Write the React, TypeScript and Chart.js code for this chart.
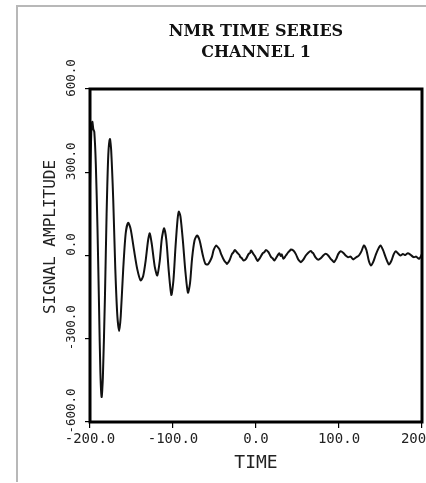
import React, { useEffect, useRef } from "react";
import { Chart, registerables } from "chart.js";

Chart.register(...registerables);

const TITLE_LINES = ["NMR TIME SERIES", "CHANNEL 1"];
const X_LABEL = "TIME";
const Y_LABEL = "SIGNAL AMPLITUDE";
const X_TICKS = [-200, -100, 0, 100, 200];
const Y_TICKS = [-600, -300, 0, 300, 600];

const TIME = [
  -200, -198.5, -197.2, -196, -194.8, -193, -191, -189, -187.5, -186, -184.5, -182, -180, -178, -176,
  -174.5, -172, -169.5, -167, -164.8, -163, -160, -157, -154, -151, -147, -143, -139, -136, -133,
  -130, -128, -125.5, -122, -119, -116, -113.5, -110.7, -108, -105, -102, -99.5, -97, -94.5, -93,
  -91, -88, -85, -82, -79.5, -77, -74, -71, -68, -64, -61, -58, -55, -53, -51, -48,
  -46, -44, -42, -38, -36, -35, -32, -29, -27, -25.5, -22, -20, -19, -17, -15, -12, -9, -7, -6, -3, -1, 0,
  2, 4, 5, 8, 10, 12, 15, 18, 20, 22, 25, 26, 28, 30, 31, 33, 36, 39, 41, 42, 45,
  48, 51, 52, 54, 57, 60, 63, 66, 68, 69, 72, 75, 78, 81, 84, 87, 90,
  92, 94, 97, 99, 102, 105, 108, 111, 114, 117, 120, 122, 124, 127, 130, 133, 136,
  138.5, 141, 144, 147, 150, 153, 156, 158, 160, 163, 166, 168.5, 171, 174, 177, 180,
  183, 186, 190, 193, 196.5, 200,
];

const AMPLITUDE = [
  250, 440, 482, 455, 445, 330, 100, -200, -420, -510, -440, -150, 150, 360, 420,
  380, 200, -50, -220, -272, -220, -50, 80, 118, 95, 20, -50, -90, -75, -20,
  55, 80, 40, -40, -72, -20, 60, 98, 55, -60, -142, -90, 30, 130, 158,
  140, 50, -60, -134, -100, -10, 55, 72, 55, 0, -30, -32, -18, -4, 20, 36,
  30, 22, 5, -20, -26, -30, -18, 5, 12, 20, 8, 2, -5, -10, -18, -12, 5, 10, 18, 5, -4, -10,
  -20, -12, -8, 8, 12, 20, 12, -5, -10, -18, -5, 0, 8, -2, 4, -12, 0, 12, 18, 22, 18,
  5, -15, -18, -24, -15, 0, 10, 16, 10, 8, -8, -15, -10, 0, 6, 0, -12,
  -18, -24, -10, 5, 15, 10, 0, -6, -4, -14, -8, -4, 0, 15, 36, 20, -20,
  -36, -25, 0, 22, 36, 20, -5, -20, -32, -20, 5, 15, 8, 0, 5, 2,
  8, 3, -6, -4, -12, 5,
];

const framePlugin = {
  id: "plotFrame",
  afterDraw(chart: any) {
    const { ctx, chartArea: a } = chart;
    ctx.save();
    ctx.strokeStyle = "#000";
    ctx.lineWidth = 3;
    ctx.strokeRect(a.left, a.top, a.right - a.left, a.bottom - a.top);
    // y-axis title, placed like the plotter label (slightly above the axis centre)
    ctx.fillStyle = "#222";
    ctx.font = "16px 'DejaVu Sans Mono', monospace";
    ctx.textAlign = "center";
    ctx.textBaseline = "middle";
    ctx.translate(51, 237);
    ctx.rotate(-Math.PI / 2);
    ctx.fillText(Y_LABEL, 0, 0);
    ctx.restore();
  },
};

export default function App() {
  const ref = useRef<HTMLCanvasElement>(null);

  useEffect(() => {
    if (!ref.current) return;
    const points = TIME.map((t, i) => ({ x: t, y: AMPLITUDE[i] }));
    const chart = new Chart(ref.current, {
      type: "line",
      data: {
        datasets: [
          {
            data: points,
            borderColor: "#111",
            borderWidth: 2,
            pointRadius: 0,
            tension: 0.25,
            fill: false,
          },
        ],
      },
      options: {
        animation: false,
        responsive: false,
        devicePixelRatio: 1,
        layout: { padding: { left: 0, right: 4, top: 0, bottom: 0 } },
        plugins: {
          legend: { display: false },
          tooltip: { enabled: false },
          title: {
            display: true,
            fullSize: false,
            text: TITLE_LINES,
            color: "#111",
            font: { family: "'DejaVu Serif', serif", size: 16, weight: "bold", lineHeight: "21px" },
            padding: { top: 21.5, bottom: 25.5 },
          },
        },
        scales: {
          x: {
            type: "linear",
            min: -200,
            max: 200,
            afterBuildTicks: (s: any) => {
              s.ticks = X_TICKS.map((v) => ({ value: v }));
            },
            afterFit: (s: any) => {
              s.height = 61;
              s.paddingLeft = 0;
              s.paddingRight = 0;
            },
            grid: { drawOnChartArea: false, drawTicks: true, tickLength: 6, color: "#000", lineWidth: 1.2 },
            border: { display: false },
            ticks: {
              color: "#222",
              padding: 3,
              maxRotation: 0,
              minRotation: 0,
              autoSkip: false,
              font: { family: "'DejaVu Sans Mono', monospace", size: 14 },
              callback: (v: any) => Number(v).toFixed(1),
            },
            title: {
              display: true,
              text: X_LABEL,
              color: "#222",
              font: { family: "'DejaVu Sans Mono', monospace", size: 18 },
              padding: { top: 0, bottom: 9 },
            },
          },
          y: {
            type: "linear",
            min: -600,
            max: 600,
            afterBuildTicks: (s: any) => {
              s.ticks = Y_TICKS.map((v) => ({ value: v }));
            },
            afterFit: (s: any) => {
              s.width = 90;
              s.paddingTop = 0;
              s.paddingBottom = 0;
            },
            grid: { drawOnChartArea: false, drawTicks: true, tickLength: 5, color: "#000", lineWidth: 1.2 },
            border: { display: false },
            ticks: {
              color: "#222",
              padding: -9,
              labelOffset: -11,
              minRotation: 90,
              maxRotation: 90,
              crossAlign: "center",
              autoSkip: false,
              font: { family: "'DejaVu Sans Mono', monospace", size: 12.5 },
              callback: (v: any) => Number(v).toFixed(1),
            },
            title: { display: false },
          },
        },
      },
      plugins: [framePlugin],
    });
    return () => chart.destroy();
  }, []);

  return (
    <div style={{ position: "fixed", left: 0, top: 0, width: 426, height: 483, overflow: "hidden", background: "#fff" }}>
      <div
        style={{
          position: "absolute",
          left: 16,
          top: 5,
          width: 500,
          height: 475,
          borderLeft: "2px solid #b8b8b8",
          borderTop: "2px solid #b8b8b8",
        }}
      />
      <canvas
        ref={ref}
        width={426}
        height={483}
        style={{ position: "absolute", left: 0, top: 0, width: 426, height: 483 }}
      />
    </div>
  );
}
